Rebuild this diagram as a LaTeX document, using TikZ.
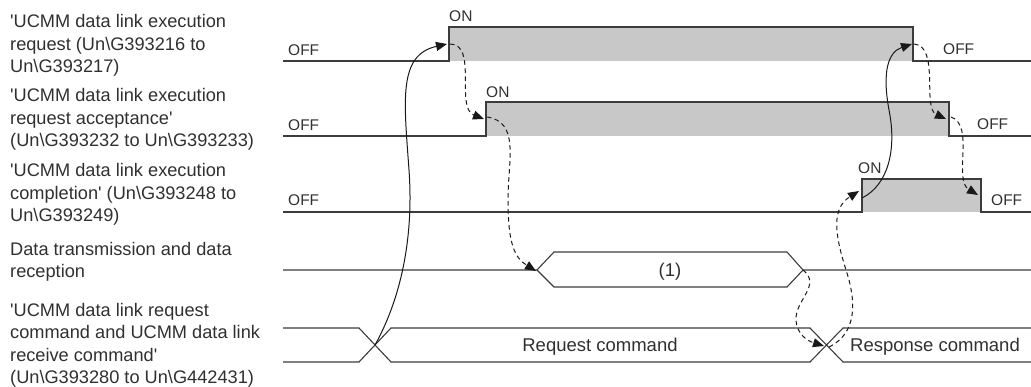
\documentclass[tikz,border=0pt]{standalone}
\usepackage{fontspec}
\setmainfont{Liberation Sans}[Ligatures=TeXOff]
\usetikzlibrary{arrows.meta}
\definecolor{ln}{HTML}{3C3C3C}
\definecolor{hi}{HTML}{C8C8C8}
\tikzset{
  sig/.style={draw=ln, line width=1.1pt},
  hifill/.style={fill=hi, draw=none},
  lbl/.style={font=\fontsize{18.2}{22.6}\selectfont, align=left, anchor=base west, inner sep=0pt, text=ln!80!black},
  st/.style={font=\fontsize{15.5}{18}\selectfont, anchor=base west, inner sep=0pt, text=ln!80!black},
  txt/.style={font=\fontsize{18.5}{20}\selectfont, anchor=base, inner sep=0pt, text=ln!80!black},
  solidarr/.style={draw=black!90, line width=1pt, -{Triangle[length=11pt,width=9pt]}},
  dasharr/.style={draw=black!90, line width=1pt, dash pattern=on 4.5pt off 3.5pt, -{Triangle[length=11pt,width=9pt]}}
}
\begin{document}
\begin{tikzpicture}[x=1pt,y=-1pt]
\useasboundingbox (0,0) rectangle (1031,387);
% labels (base anchor = baseline of the last line)
\node[lbl] (l1) at (10,73) {'UCMM data link execution\\request (Un\textbackslash G393216 to\\Un\textbackslash G393217)};
\node[lbl] (l2) at (10,147) {'UCMM data link execution\\request acceptance'\\(Un\textbackslash G393232 to Un\textbackslash G393233)};
\node[lbl] (l3) at (10,222) {'UCMM data link execution\\completion' (Un\textbackslash G393248 to\\Un\textbackslash G393249)};
\node[lbl] (l4) at (10,278) {Data transmission and data\\reception};
\node[lbl] (l5) at (10,384) {'UCMM data link request\\command and UCMM data link\\receive command'\\(Un\textbackslash G393280 to Un\textbackslash G442431)};
% signal 1
\fill[hifill] (449,27) rectangle (913,61);
\draw[sig] (283,61) -- (449,61) -- (449,27) -- (913,27) -- (913,61) -- (1031,61);
% signal 2
\fill[hifill] (486,102) rectangle (949,136);
\draw[sig] (283,136) -- (486,136) -- (486,102) -- (949,102) -- (949,136) -- (1031,136);
% signal 3
\fill[hifill] (862,179) rectangle (981,212);
\draw[sig] (283,212) -- (862,212) -- (862,179) -- (981,179) -- (981,212) -- (1031,212);
% signal 4
\draw[sig] (283,270) -- (537,270) -- (554,252) -- (787,252) -- (803,270) -- (1031,270);
\draw[sig] (537,270) -- (554,287) -- (787,287) -- (803,270);
% signal 5
\draw[sig] (283,328) -- (359,328) -- (391,362) -- (810,362) -- (843,328) -- (1031,328);
\draw[sig] (283,362) -- (359,362) -- (391,328) -- (810,328) -- (843,362) -- (1031,362);
% state labels
\node[st] (on1) at (449,22) {ON};
\node[st] (on2) at (486,98) {ON};
\node[st] (on3) at (858,174) {ON};
\node[st] (off1) at (288,56) {OFF};
\node[st] (off2) at (288,131) {OFF};
\node[st] (off3) at (288,206) {OFF};
\node[st] (off1r) at (943,55) {OFF};
\node[st] (off2r) at (977,130) {OFF};
\node[st] (off3r) at (991,206) {OFF};
\node[txt] (d1) at (670,277) {(1)};
\node[txt] (req) at (600,352) {Request command};
\node[txt] (res) at (935,352) {Response command};
% connector points
\coordinate (c1) at (375,345);
\coordinate (c2) at (827,345);
\coordinate (r1) at (449,44);
\coordinate (r2) at (486,119);
\coordinate (r3) at (862,195);
\coordinate (f1) at (913,44);
\coordinate (f2) at (949,119);
\coordinate (f3) at (981,195);
\coordinate (h1) at (537,270);
\coordinate (h2) at (803,270);
% connectors
\draw[solidarr] (c1) .. controls (400,300) and (414,240) .. (409,170) .. controls (404,100) and (398,55) .. ([xshift=-2pt]r1);
\draw[dasharr] ([xshift=1pt]r1) .. controls (478,44) and (455,108) .. ([xshift=-2pt]r2);
\draw[dasharr] ([xshift=1pt,yshift=2pt]r2) .. controls (520,122) and (508,160) .. (508,200) .. controls (508,245) and (515,258) .. ([xshift=-1pt,yshift=-1pt]h1);
\draw[dasharr] (h2) .. controls (822,285) and (795,300) .. (796,320) .. controls (797,335) and (808,341) .. ([xshift=-3pt,yshift=-1pt]c2);
\draw[dasharr] ([xshift=2pt,yshift=-2pt]c2) .. controls (858,333) and (856,300) .. (846,270) .. controls (834,232) and (832,208) .. ([xshift=-3pt,yshift=4pt]r3);
\draw[solidarr] ([yshift=-3pt]r3) .. controls (888,185) and (897,150) .. (889,110) .. controls (882,72) and (888,52) .. ([xshift=-1pt]f1);
\draw[dasharr] ([xshift=1pt]f1) .. controls (940,46) and (922,108) .. ([xshift=-3pt]f2);
\draw[dasharr] ([xshift=2pt,yshift=2pt]f2) .. controls (975,125) and (953,180) .. ([xshift=-3pt]f3);
\end{tikzpicture}
\end{document}
